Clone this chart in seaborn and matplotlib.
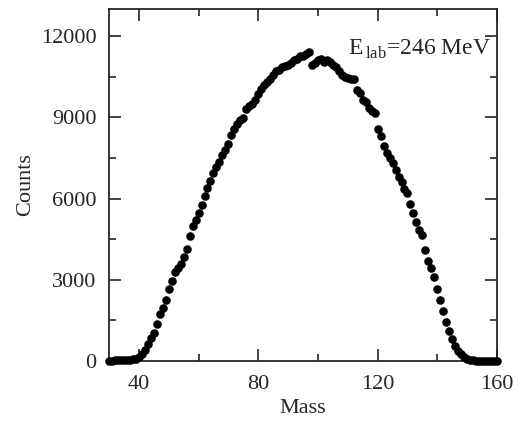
import matplotlib
matplotlib.use('Agg')
import matplotlib.pyplot as plt
from matplotlib.ticker import MultipleLocator
import seaborn as sns
import pandas as pd
import numpy as np

# masses 30..160, one point per mass unit
mass = list(range(30, 161))
counts = [
    15, 15, 20, 20, 25, 30, 35, 45, 60, 90,                     # 30-39
    150, 270, 420, 620, 850, 1050, 1350, 1750, 1950, 2250,      # 40-49
    2650, 2950, 3300, 3450, 3600, 3850, 4150, 4600, 5000, 5200, # 50-59
    5450, 5750, 6100, 6400, 6650, 6950, 7150, 7350, 7600, 7800, # 60-69
    8000, 8350, 8550, 8750, 8900, 8960, 9300, 9400, 9500, 9650, # 70-79
    9850, 10050, 10200, 10300, 10400, 10550, 10700, 10750, 10850, 10900,  # 80-89
    10950, 11000, 11100, 11150, 11250, 11250, 11350, 11400, 10950, 11000, # 90-99
    11100, 11150, 11050, 11100, 11050, 10950, 10850, 10700, 10550, 10500, # 100-109
    10450, 10400, 10400, 10000, 9900, 9650, 9550, 9350, 9250, 9150,       # 110-119
    8550, 8300, 7950, 7700, 7500, 7300, 7050, 6800, 6600, 6350,           # 120-129
    6200, 5800, 5450, 5150, 4850, 4650, 4100, 3700, 3450, 3100,           # 130-139
    2650, 2250, 1850, 1450, 1100, 800, 550, 380, 250, 150,                # 140-149
    80, 40, 25, 15, 12, 10, 10, 10, 10, 10, 10,                           # 150-160
]
df = pd.DataFrame({'Mass': mass, 'Counts': counts})

sns.set_style('ticks')
plt.rcParams['font.family'] = ['Liberation Serif', 'DejaVu Serif']
plt.rcParams['mathtext.fontset'] = 'custom'
plt.rcParams['mathtext.rm'] = 'Liberation Serif'

fig = plt.figure(figsize=(5.2, 4.23), dpi=100)
ax = fig.add_axes([0.2096, 0.1466, 0.7462, 0.8321])

sns.scatterplot(data=df, x='Mass', y='Counts', color='black', s=38,
                edgecolor='black', linewidth=0, clip_on=False, ax=ax, zorder=3)

ax.set_xlim(30, 160)
ax.set_ylim(0, 13000)
ax.set_xticks([40, 80, 120, 160])
ax.xaxis.set_minor_locator(MultipleLocator(20))
ax.yaxis.set_major_locator(MultipleLocator(3000))
ax.yaxis.set_minor_locator(MultipleLocator(1500))

for s in ax.spines.values():
    s.set_linewidth(1.3)
    s.set_visible(True)
ax.tick_params(which='both', direction='in', top=True, right=True,
               width=1.2, labelsize=16)
ax.tick_params(axis='x', pad=10)
ax.tick_params(axis='y', pad=9)
ax.tick_params(which='major', length=8.5)
ax.tick_params(which='minor', length=5)

ax.set_xlabel('Mass', fontsize=16, labelpad=4)
ax.set_ylabel('Counts', fontsize=16, labelpad=4)

ax.text(0.985, 0.918, r'E$_{\,\rm lab}$=246 MeV', transform=ax.transAxes,
        ha='right', va='top', fontsize=17)

fig.savefig('out.png', dpi=100)
